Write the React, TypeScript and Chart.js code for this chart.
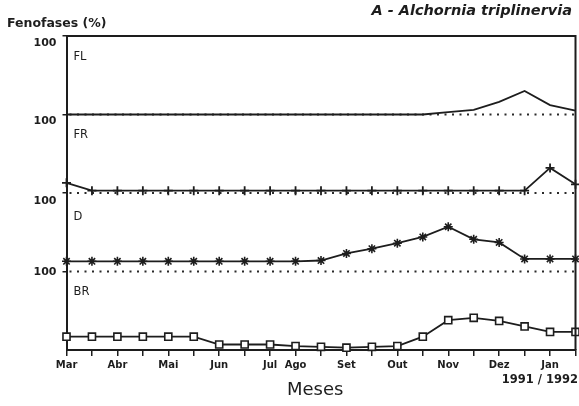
import React, { useEffect, useRef } from 'react';
import { Chart, registerables } from 'chart.js';

Chart.register(...registerables);

// ---- data ----
const monthTicks = ['Mar', '', 'Abr', '', 'Mai', '', 'Jun', '', 'Jul', 'Ago', '', 'Set', '', 'Out', '', 'Nov', '', 'Dez', '', 'Jan', ''];
const flValues = [0, 0, 0, 0, 0, 0, 0, 0, 0, 0, 0, 0, 0, 0, 0, 3, 6, 16, 30, 12, 5];
const frValues = [13, 3, 3, 3, 3, 3, 3, 3, 3, 3, 3, 3, 3, 3, 3, 3, 3, 3, 3, 32, 11];
const dValues = [13, 13, 13, 13, 13, 13, 13, 13, 13, 13, 14, 23, 29, 36, 44, 57, 41, 37, 16, 16, 16];
const brValues = [17, 17, 17, 17, 17, 17, 7, 7, 7, 5, 4, 3, 4, 5, 17, 38, 41, 37, 30, 23, 23];
const panelNames = ['FL', 'FR', 'D', 'BR'];
const yTopTick = 100;
const titleText = 'A - Alchornia triplinervia';
const yTitle = 'Fenofases (%)';
const xTitle = 'Meses';
const yearsText = '1991 / 1992';

const INK = '#1d1d1d';
const FONT = '"DejaVu Sans", "Liberation Sans", sans-serif';

export default function App() {
  const ref = useRef<HTMLCanvasElement>(null);

  useEffect(() => {
    const canvas = ref.current;
    if (!canvas) return;

    const axisIds = ['yFL', 'yFR', 'yD', 'yBR'];
    const labelOffsets = [7, 7, 8, 1];
    const nameOffsets = [21, 21, 24, 21];

    const decor = {
      id: 'decor',
      beforeDatasetsDraw(chart: any) {
        const { ctx, chartArea } = chart;
        ctx.save();
        ctx.strokeStyle = '#2a2a2a';
        ctx.lineWidth = 2;
        ctx.setLineDash([2, 5.5]);
        ['yFL', 'yFR', 'yD'].forEach((id) => {
          const y = chart.scales[id].getPixelForValue(0);
          ctx.beginPath();
          ctx.moveTo(chartArea.left + 3, y);
          ctx.lineTo(chartArea.right, y);
          ctx.stroke();
        });
        ctx.restore();
      },
      afterDraw(chart: any) {
        const { ctx, chartArea } = chart;
        ctx.save();
        // frame top & right
        ctx.strokeStyle = INK;
        ctx.lineWidth = 2;
        ctx.beginPath();
        ctx.moveTo(chartArea.left, chartArea.top);
        ctx.lineTo(chartArea.right, chartArea.top);
        ctx.lineTo(chartArea.right, chartArea.bottom);
        ctx.stroke();

        ctx.fillStyle = INK;
        // panel names
        ctx.font = `11.5px ${FONT}`;
        ctx.textAlign = 'left';
        ctx.textBaseline = 'middle';
        axisIds.forEach((id, i) => {
          const s = chart.scales[id];
          ctx.fillText(panelNames[i], chartArea.left + 7, s.top + nameOffsets[i]);
        });

        // title
        ctx.font = `italic bold 14.5px ${FONT}`;
        ctx.textAlign = 'right';
        ctx.fillText(titleText, 572, 11);

        // y title
        ctx.font = `bold 12.5px ${FONT}`;
        ctx.textAlign = 'left';
        ctx.fillText(yTitle, 7, 24);

        // x title
        ctx.font = `18px ${FONT}`;
        ctx.textAlign = 'left';
        ctx.fillText(xTitle, 287, 390);

        // years
        ctx.font = `bold 11.5px ${FONT}`;
        ctx.textAlign = 'right';
        ctx.fillText(yearsText, 578, 380);
        ctx.restore();
      },
    };

    const yAxis = (i: number) => ({
      type: 'linear',
      position: 'left',
      stack: 'panels',
      stackWeight: 1,
      weight: 4 - i,
      min: 0,
      max: 100,
      afterBuildTicks: (s: any) => {
        s.ticks = [{ value: yTopTick }];
      },
      afterFit: (s: any) => {
        s.width = 66.5;
      },
      grid: { drawOnChartArea: false, drawTicks: true, tickLength: 4, color: INK, lineWidth: 1.5 },
      border: { display: true, color: INK, width: 2 },
      ticks: {
        color: INK,
        font: { family: FONT, weight: 'bold', size: 11 },
        padding: 6,
        labelOffset: labelOffsets[i],
        callback: (v: any) => String(v),
      },
    });

    const common = {
      borderColor: INK,
      borderWidth: 1.8,
      tension: 0,
      fill: false,
      clip: false as any,
      pointBorderColor: INK,
      pointBackgroundColor: '#ffffff',
    };

    const chart = new Chart(canvas, {
      type: 'line',
      data: {
        labels: monthTicks,
        datasets: [
          { ...common, label: 'FL', data: flValues, yAxisID: 'yFL', pointRadius: 0 },
          { ...common, label: 'FR', data: frValues, yAxisID: 'yFR', pointStyle: 'cross', pointRadius: 4.5, pointBorderWidth: 1.8 },
          { ...common, label: 'D', data: dValues, yAxisID: 'yD', pointStyle: 'star', pointRadius: 4.5, pointBorderWidth: 1.6 },
          { ...common, label: 'BR', data: brValues, yAxisID: 'yBR', pointStyle: 'rect', pointRadius: 5, pointBorderWidth: 1.6 },
        ],
      },
      options: {
        responsive: false,
        animation: false,
        devicePixelRatio: 1,
        layout: { autoPadding: false, padding: { top: 36, right: 3.5, left: 0, bottom: 0 } },
        plugins: { legend: { display: false }, tooltip: { enabled: false }, title: { display: false } },
        scales: {
          x: {
            type: 'category',
            offset: false,
            afterFit: (s: any) => {
              s.height = 56;
            },
            grid: { drawOnChartArea: false, drawTicks: true, tickLength: 6, color: INK, lineWidth: 1.5 },
            border: { display: true, color: INK, width: 2 },
            ticks: {
              autoSkip: false,
              maxRotation: 0,
              padding: 3,
              color: INK,
              font: { family: FONT, weight: 'bold', size: 10 },
            },
          },
          yFL: yAxis(0),
          yFR: yAxis(1),
          yD: yAxis(2),
          yBR: yAxis(3),
        } as any,
      },
      plugins: [decor],
    } as any);

    return () => chart.destroy();
  }, []);

  return (
    <div style={{ position: 'fixed', left: 0, top: 0, width: 579, height: 406, background: '#ffffff' }}>
      <canvas ref={ref} width={579} height={406} style={{ display: 'block' }} />
    </div>
  );
}
